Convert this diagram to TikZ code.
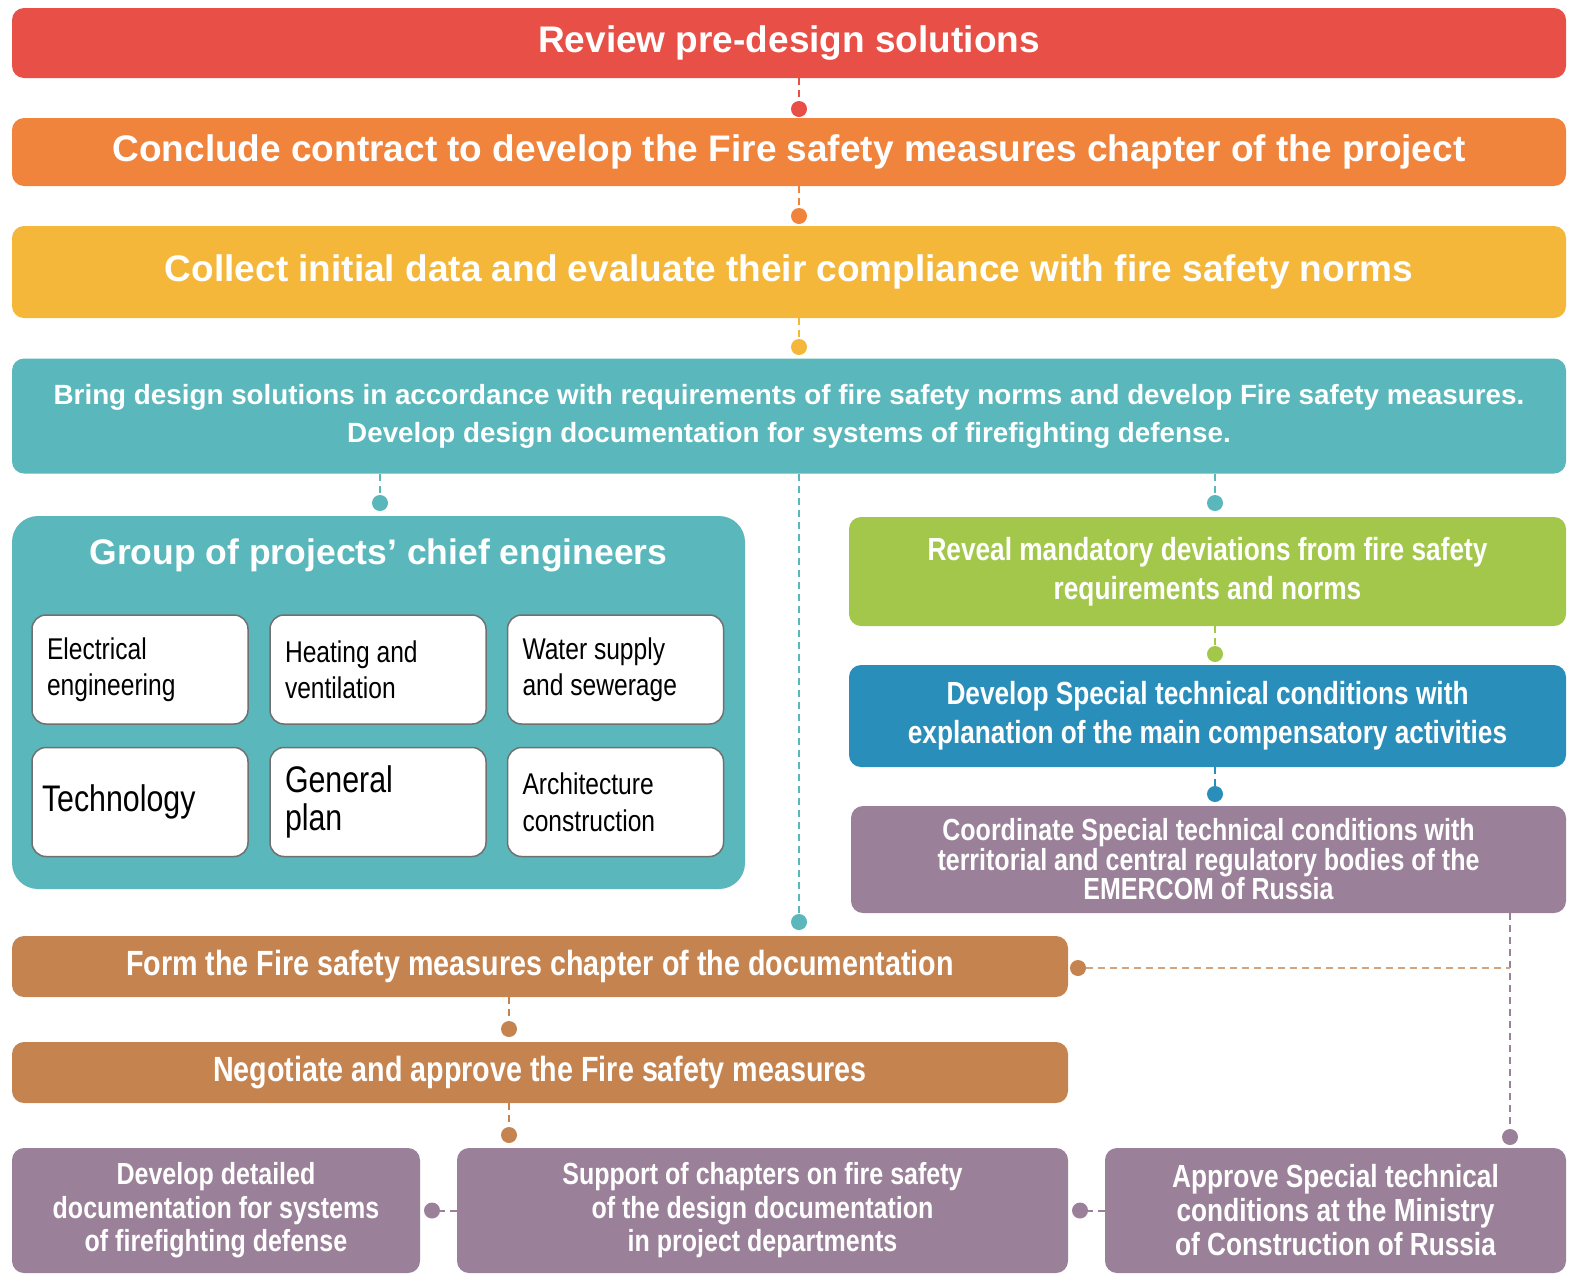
\documentclass[tikz,border=0pt]{standalone}
\usepackage{fontspec}
\setmainfont{Liberation Sans}
\newfontfamily\narrowsf[FakeStretch=0.82]{Liberation Sans}
\usetikzlibrary{positioning}

\definecolor{cRed}{HTML}{E84F47}
\definecolor{cOrange}{HTML}{F0843C}
\definecolor{cYellow}{HTML}{F5B73A}
\definecolor{cTeal}{HTML}{5AB7BB}
\definecolor{cGreen}{HTML}{A2C74A}
\definecolor{cBlue}{HTML}{2A8EBA}
\definecolor{cPurple}{HTML}{9A8098}
\definecolor{cBrown}{HTML}{C5844F}
\definecolor{cGray}{HTML}{707070}

\newcommand{\fsz}[2]{\fontsize{#1}{#2}\selectfont}

\begin{document}
\begin{tikzpicture}[x=1pt, y=-1pt,
	every node/.style = {align=center, inner sep=0pt},
	Box/.style = {rounded corners=12pt, text=white, minimum height=#1},
	Wide/.style = {font=\fsz{37}{44}\bfseries},
	Narrow/.style = {font=\narrowsf\fsz{32}{39}\bfseries},
	Cell/.style = {draw=cGray, line width=1.5pt, fill=white, rounded corners=14pt,
		minimum width=216pt, minimum height=109pt, text width=186pt, align=flush left},
	Link/.style = {draw=#1, line width=2pt, dash pattern=on 7pt off 5pt},
	Dot/.style = {circle, fill=#1, minimum size=16pt}
]
\useasboundingbox (0,0) rectangle (1576,1275);

% main chain
\node[Box=70pt, fill=cRed, minimum width=1554pt, Wide] (review) at (789,43)
	{Review pre-design solutions};
\node[Box=68pt, fill=cOrange, minimum width=1554pt, Wide] (contract) at (789,152)
	{Conclude contract to develop the Fire safety measures chapter of the project};
\node[Box=92pt, fill=cYellow, minimum width=1554pt, Wide] (collect) at (789,272)
	{Collect initial data and evaluate their compliance with fire safety norms};
\node[Box=115pt, fill=cTeal, minimum width=1554pt, font=\fsz{27.8}{38}\bfseries] (bring) at (789,416)
	{Bring design solutions in accordance with requirements of fire safety norms and develop Fire safety measures.\\
	 Develop design documentation for systems of firefighting defense.};

% group of chief engineers
\node[Box=373pt, fill=cTeal, minimum width=733pt, rounded corners=26pt] (group) at (378.5,702.5) {};
\node[text=white, font=\fsz{35.5}{42}\bfseries] (grouptitle) at (378.5,555) {Group of projects’ chief engineers};
\node[Cell, font=\narrowsf\fsz{30}{36}] (elec) at (140,669.5) {Electrical\\engineering};
\node[Cell, font=\narrowsf\fsz{30}{36}] (heat) at (378,669.5) {Heating and\\ventilation};
\node[Cell, font=\narrowsf\fsz{30}{36}] (water) at (615.5,669.5) {Water supply\\and sewerage};
\node[Cell, font=\narrowsf\fsz{37}{38}, text width=196pt] (techn) at (140,802) {Technology};
\node[Cell, font=\narrowsf\fsz{37}{38}] (plan) at (378,802) {General\\plan};
\node[Cell, font=\narrowsf\fsz{30}{37}] (arch) at (615.5,802) {Architecture\\construction};

% right branch
\node[Box=109pt, fill=cGreen, minimum width=717pt, Narrow] (reveal) at (1207.5,571.5)
	{Reveal mandatory deviations from fire safety\\requirements and norms};
\node[Box=102pt, fill=cBlue, minimum width=717pt, Narrow] (special) at (1207.5,716)
	{Develop Special technical conditions with\\explanation of the main compensatory activities};
\node[Box=107pt, fill=cPurple, minimum width=715pt, font=\narrowsf\fsz{30.5}{28}\bfseries] (coord) at (1208.5,859.5)
	{Coordinate Special technical conditions with\\territorial and central regulatory bodies of the\\EMERCOM of Russia};

% lower part
\node[Box=61pt, fill=cBrown, minimum width=1056pt, font=\narrowsf\fsz{35}{40}\bfseries] (form) at (540,966.5)
	{Form the Fire safety measures chapter of the documentation};
\node[Box=61pt, fill=cBrown, minimum width=1056pt, font=\narrowsf\fsz{35}{40}\bfseries] (negot) at (540,1072.5)
	{Negotiate and approve the Fire safety measures};
\node[Box=125pt, fill=cPurple, minimum width=408pt, font=\narrowsf\fsz{30.5}{33.5}\bfseries] (detail) at (216,1210.5)
	{Develop detailed\\documentation for systems\\of firefighting defense};
\node[Box=125pt, fill=cPurple, minimum width=611pt, font=\narrowsf\fsz{30.5}{33.5}\bfseries] (support) at (762.5,1210.5)
	{Support of chapters on fire safety\\of the design documentation\\in project departments};
\node[Box=125pt, fill=cPurple, minimum width=461pt, font=\narrowsf\fsz{32}{34}\bfseries] (approve) at (1335.5,1210.5)
	{Approve Special technical\\conditions at the Ministry\\of Construction of Russia};

% end dots
\node[Dot=cRed]    (d1)  at (799,109)  {};
\node[Dot=cOrange] (d2)  at (799,216)  {};
\node[Dot=cYellow] (d3)  at (799,347)  {};
\node[Dot=cTeal]   (d4)  at (380,503)  {};
\node[Dot=cTeal]   (d5)  at (1215,503) {};
\node[Dot=cTeal]   (d6)  at (799,922)  {};
\node[Dot=cGreen]  (d7)  at (1215,654) {};
\node[Dot=cBlue]   (d8)  at (1215,794) {};
\node[Dot=cPurple] (d9)  at (1510,1137) {};
\node[Dot=cBrown]  (d10) at (1078,968) {};
\node[Dot=cBrown]  (d11) at (509,1029) {};
\node[Dot=cBrown]  (d12) at (509,1135) {};
\node[Dot=cPurple] (d13) at (432,1210.5) {};
\node[Dot=cPurple] (d14) at (1080,1210.5) {};

% connectors
\draw[Link=cRed]    (review.south -| d1) -- (d1);
\draw[Link=cOrange] (contract.south -| d2) -- (d2);
\draw[Link=cYellow] (collect.south -| d3) -- (d3);
\draw[Link=cTeal]   (bring.south -| d4) -- (d4);
\draw[Link=cTeal]   (bring.south -| d5) -- (d5);
\draw[Link=cTeal]   (bring.south -| d6) -- (d6);
\draw[Link=cGreen]  (reveal.south -| d7) -- (d7);
\draw[Link=cBlue]   (special.south -| d8) -- (d8);
\draw[Link=cPurple] (coord.south -| d9) -- (d9);
\draw[Link=cBrown!75] (d10) -- (d10 -| d9);
\draw[Link=cBrown]  (form.south -| d11) -- (d11);
\draw[Link=cBrown]  (negot.south -| d12) -- (d12);
\draw[Link=cPurple] (support.west) -- (d13);
\draw[Link=cPurple] (approve.west) -- (d14);
\end{tikzpicture}
\end{document}
